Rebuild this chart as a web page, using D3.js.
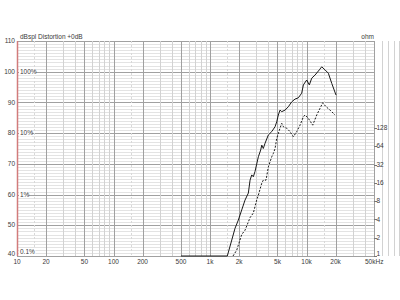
<html lang="en">
<head>
    <meta charset="UTF-8">
    <title>SPL and distortion</title>
    <script src="https://d3js.org/d3.v7.min.js"></script>
    <style>
        body { margin: 0; background: #fff; }
        text { font-family: "Liberation Sans", Arial, sans-serif; font-size: 6.5px; fill: #3a3a3a; }
    </style>
</head>
<body>
    <svg width="400" height="300"></svg>
    <script>
        // frequency response (solid) and distortion (dashed)
        var splFreq = [500, 1510, 1680, 1815, 1965, 2130, 2305, 2495, 2600, 2705, 2810, 2925, 3167, 3350, 3435, 3565, 3715, 4020, 4360, 4720, 4910, 5100, 5310, 5535, 5990, 6480, 7030, 7600, 8220, 8910, 9270, 10040, 10690, 11320, 12240, 13570, 14360, 15550, 16830, 18250, 20200];
        var splDb = [40, 40, 45.2, 49, 51.7, 55, 58.2, 60.5, 64.7, 66.4, 65.8, 67.5, 72.3, 74.5, 76.1, 75, 76.7, 79.4, 80.5, 82.1, 83.7, 85.9, 87.5, 87, 87.5, 88.6, 90.2, 91.1, 91.5, 93, 95.7, 97.3, 95.7, 97.9, 98.9, 100.6, 101.6, 100.6, 99.5, 96.2, 92.4];
        var distFreq = [1730, 1890, 2130, 2305, 2600, 2810, 3045, 3167, 3435, 3565, 3805, 4020, 4360, 4530, 4720, 4910, 5310, 5535, 5750, 6230, 6740, 7300, 7910, 8560, 9270, 9640, 10440, 11590, 12750, 13800, 14720, 15930, 17530, 19730];
        var distDb = [40, 41.9, 47, 48.4, 52.5, 54, 58.2, 59.8, 63.7, 64.7, 64.7, 69, 72.3, 73.4, 75, 78.3, 81.6, 83.2, 82.1, 81.6, 80.5, 78.8, 80.5, 82.6, 85.3, 85.9, 84.8, 82.6, 85.9, 88.1, 89.9, 88.6, 87.5, 85.9];

        var freqTicks = [10, 20, 50, 100, 200, 500, 1000, 2000, 5000, 10000, 20000, 50000];
        var freqLabels = ["10", "20", "50", "100", "200", "500", "1k", "2k", "5k", "10k", "20k", "50kHz"];
        var dbTicks = [40, 50, 60, 70, 80, 90, 100, 110];
        var pctTicks = [40, 60, 80, 100];
        var pctLabels = ["0.1%", "1%", "10%", "100%"];
        var ohmTicks = [1, 2, 4, 8, 16, 32, 64, 128];

        var svg = d3.select("svg"),
            pLeft = 17, pRight = 374, pTop = 41, pBottom = 256;

        var x = d3.scaleLog().domain([10, 50000]).range([pLeft, pRight]),
            y = d3.scaleLinear().domain([40, 110]).range([pBottom, pTop]),
            yOhm = d3.scaleLog().base(2).domain([1, 128]).range([pBottom, 128]);

        var grid = svg.append("g");

        // horizontal grid, 1 dB minor and 10 dB major
        var dbLines = d3.range(40, 111, 1);
        grid.selectAll(".hgrid")
            .data(dbLines)
            .enter().append("line")
            .attr("x1", pLeft).attr("x2", pRight)
            .attr("y1", function (d) { return Math.round(y(d)) + 0.5; })
            .attr("y2", function (d) { return Math.round(y(d)) + 0.5; })
            .attr("stroke", function (d) { return d % 10 == 0 ? "#a0a0a0" : "#e3e3e3"; })
            .attr("stroke-width", 1);

        // vertical grid
        var fLines = [];
        [10, 100, 1000, 10000].forEach(function (dec) {
            for (var m = 1; m <= 9; m++) fLines.push({ f: dec * m, major: m == 1 || m == 2 || m == 5 });
            fLines.push({ f: dec * 1.5, dashed: true });
        });
        fLines.push({ f: 50000, major: true });
        grid.selectAll(".vgrid")
            .data(fLines)
            .enter().append("line")
            .attr("x1", function (d) { return Math.round(x(d.f)) + 0.5; })
            .attr("x2", function (d) { return Math.round(x(d.f)) + 0.5; })
            .attr("y1", pTop).attr("y2", pBottom)
            .attr("stroke", function (d) { return d.major ? "#a0a0a0" : (d.dashed ? "#d8d8d8" : "#d2d2d2"); })
            .attr("stroke-dasharray", function (d) { return d.dashed ? "2,2" : null; })
            .attr("stroke-width", 1);

        // left red axis line
        svg.append("line")
            .attr("x1", pLeft + 0.5).attr("x2", pLeft + 0.5)
            .attr("y1", pTop).attr("y2", pBottom)
            .attr("stroke", "#d27b7b").attr("stroke-width", 1.5);

        // curves
        var line = d3.line()
            .x(function (d) { return x(d[0]); })
            .y(function (d) { return y(d[1]); });

        svg.append("path")
            .datum(d3.zip(splFreq, splDb))
            .attr("d", line)
            .attr("fill", "none").attr("stroke", "#1a1a1a").attr("stroke-width", 1);

        svg.append("path")
            .datum(d3.zip(distFreq, distDb))
            .attr("d", line)
            .attr("fill", "none").attr("stroke", "#1a1a1a").attr("stroke-width", 1)
            .attr("stroke-dasharray", "2,1.5");

        // left dB labels
        svg.selectAll(".dbl")
            .data(dbTicks)
            .enter().append("text")
            .attr("x", pLeft - 2)
            .attr("y", function (d) { return y(d) + 2.2 - (d == 40 ? 2 : 0); })
            .attr("text-anchor", "end")
            .text(function (d) { return d; });

        // distortion percent labels with white boxes
        var pct = svg.selectAll(".pct")
            .data(pctTicks)
            .enter().append("g")
            .attr("transform", function (d) { return "translate(" + (pLeft + 2) + "," + (y(d) - (d == 40 ? 4 : 0)) + ")"; });
        pct.append("rect")
            .attr("x", 0).attr("y", -3.5)
            .attr("width", function (d, i) { return pctLabels[i].length * 3.6 + 2; })
            .attr("height", 7)
            .attr("fill", "#fff");
        pct.append("text")
            .attr("x", 1).attr("y", 2.2)
            .text(function (d, i) { return pctLabels[i]; });

        // frequency labels
        svg.selectAll(".fl")
            .data(freqTicks)
            .enter().append("text")
            .attr("x", function (d, i) { return i == freqTicks.length - 1 ? x(d) - 9 : x(d); })
            .attr("y", 264)
            .attr("text-anchor", function (d, i) { return i == freqTicks.length - 1 ? "start" : "middle"; })
            .text(function (d, i) { return freqLabels[i]; });

        // ohm axis
        svg.selectAll(".ot")
            .data(ohmTicks)
            .enter().append("line")
            .attr("x1", pRight).attr("x2", pRight + 3)
            .attr("y1", function (d) { return Math.round(yOhm(d)) + 0.5; })
            .attr("y2", function (d) { return Math.round(yOhm(d)) + 0.5; })
            .attr("stroke", "#777");
        svg.selectAll(".ol")
            .data(ohmTicks)
            .enter().append("text")
            .attr("x", pRight + 2.5)
            .attr("y", function (d) { return yOhm(d) + 2.2 - (d == 1 ? 2 : 0); })
            .text(function (d) { return d; });

        svg.append("text").attr("x", 20).attr("y", 39).text("dBspl  Distortion +0dB");
        svg.append("text").attr("x", pRight).attr("y", 39).attr("text-anchor", "end").text("ohm");
    </script>
</body>
</html>
